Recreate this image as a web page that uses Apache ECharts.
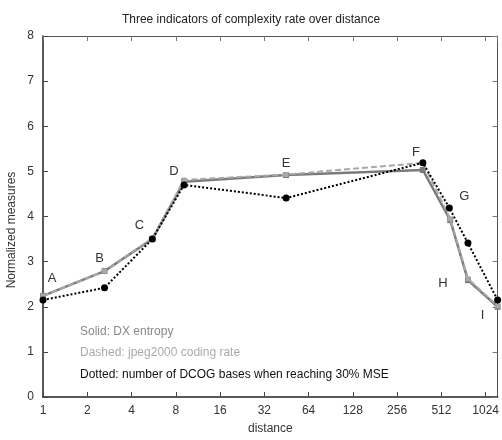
<!DOCTYPE html>
<html><head><meta charset="utf-8">
<script src="https://cdn.jsdelivr.net/npm/echarts@6/dist/echarts.min.js"></script>
<style>html,body{margin:0;padding:0;background:#fff}#c{width:502px;height:440px}</style>
</head><body><div id="c"></div>
<script>
var pointLabels = ['A','B','C','D','E','F','G','H','I'];
var solidDist = [1, 2.62, 5.54, 9.1, 45, 383, 588, 776, 1235];
var solidVals = [2.24, 2.79, 3.5, 4.77, 4.92, 5.03, 3.92, 2.59, 2.0];
var dashedDist = [1, 2.62, 5.54, 9.1, 45, 383, 588, 776, 1235];
var dashedVals = [2.24, 2.79, 3.52, 4.81, 4.93, 5.19, 3.95, 2.62, 2.02];
var dottedDist = [1, 2.62, 5.54, 9.1, 45, 383, 580, 776, 1235];
var dottedVals = [2.15, 2.42, 3.5, 4.7, 4.41, 5.19, 4.19, 3.41, 2.15];
var xTickLabels = ['1','2','4','8','16','32','64','128','256','512','1024'];
var yTicks = [0,1,2,3,4,5,6,7,8];
var legendLines = ['Solid: DX entropy','Dashed: jpeg2000 coding rate','Dotted: number of DCOG bases when reaching 30% MSE'];

var labelOffsets = [[9,-17],[-5,-13],[-13,-14],[-10,-10],[0,-12],[-7,-18],[14,-24],[-25,3],[-15,9]];
function pts(d, v){ return d.map(function(x,i){ return [Math.log2(x), v[i]]; }); }
var solidData = pts(solidDist, solidVals).map(function(p,i){
  return {value:p, label:{show:true, formatter:pointLabels[i], position:'inside', offset:labelOffsets[i], color:'#333', fontSize:13, fontFamily:'Liberation Sans'}};
});
var font = 'Liberation Sans';
var chart = echarts.init(document.getElementById('c'));
chart.setOption({
  animation:false,
  backgroundColor:'#fff',
  title:{text:'Three indicators of complexity rate over distance', left:'center', top:9, textStyle:{fontSize:12, fontWeight:'normal', color:'#222', fontFamily:font}},
  grid:{left:43, right:2, top:36, bottom:43},
  xAxis:[{
    type:'value', min:0, max:10.27, interval:1,
    name:'distance', nameLocation:'middle', nameGap:26, nameTextStyle:{fontSize:12,color:'#333',fontFamily:font},
    axisLine:{onZero:false, lineStyle:{color:'#222', width:1.5}},
    axisTick:{inside:true, length:5, lineStyle:{color:'#444'}},
    axisLabel:{color:'#333', fontSize:12, fontFamily:font, margin:8, showMaxLabel:false,
      formatter:function(v){ return Math.abs(v-Math.round(v))<1e-6 ? (xTickLabels[Math.round(v)]||'') : ''; }},
    splitLine:{show:false}
  },{
    type:'value', position:'top', min:0, max:10.27, interval:1,
    axisLine:{show:true, onZero:false, lineStyle:{color:'#555', width:1}},
    axisTick:{inside:true, length:5, lineStyle:{color:'#777'}},
    axisLabel:{show:false}, splitLine:{show:false}
  }],
  yAxis:[{
    type:'value', min:0, max:8, interval:1,
    axisLine:{show:true, onZero:false, lineStyle:{color:'#222', width:1.5}},
    axisTick:{inside:true, length:5, lineStyle:{color:'#444'}},
    axisLabel:{color:'#333', fontSize:12, fontFamily:font, margin:9,
      formatter:function(v){ return yTicks.indexOf(v)>=0 ? String(v) : ''; }},
    splitLine:{show:false}
  },{
    type:'value', position:'right', min:0, max:8, interval:1,
    axisLine:{show:true, onZero:false, lineStyle:{color:'#555', width:1}},
    axisTick:{inside:true, length:5, lineStyle:{color:'#777'}},
    axisLabel:{show:false}, splitLine:{show:false}
  }],
  graphic:[
    {type:'text', rotation:Math.PI/2, position:[12,230], style:{text:'Normalized measures', fill:'#333', font:'12px "Liberation Sans"', textAlign:'center', textVerticalAlign:'middle'}},
    {type:'text', position:[80,326], style:{text:legendLines[0], fill:'#888', font:'12px "Liberation Sans"'}},
    {type:'text', position:[80,347], style:{text:legendLines[1], fill:'#aaa', font:'12px "Liberation Sans"'}},
    {type:'text', position:[80,369], style:{text:legendLines[2], fill:'#111', font:'12px "Liberation Sans"'}}
  ],
  series:[{
    type:'line', name:'solid', data:solidData, clip:false,
    lineStyle:{color:'#7a7a7a', width:2.5, type:'solid'},
    itemStyle:{color:'#7a7a7a'}, symbol:'rect', symbolSize:6, z:2
  },{
    type:'line', name:'dashed', data:pts(dashedDist, dashedVals), clip:false,
    lineStyle:{color:'#a8a8a8', width:2, type:[6,3]},
    itemStyle:{color:'#a8a8a8'}, symbol:'rect', symbolSize:5, z:3
  },{
    type:'line', name:'dotted', data:pts(dottedDist, dottedVals), clip:false,
    lineStyle:{color:'#000', width:2, type:[2,2]},
    itemStyle:{color:'#000'}, symbol:'circle', symbolSize:7, z:4
  }]
});
</script></body></html>
